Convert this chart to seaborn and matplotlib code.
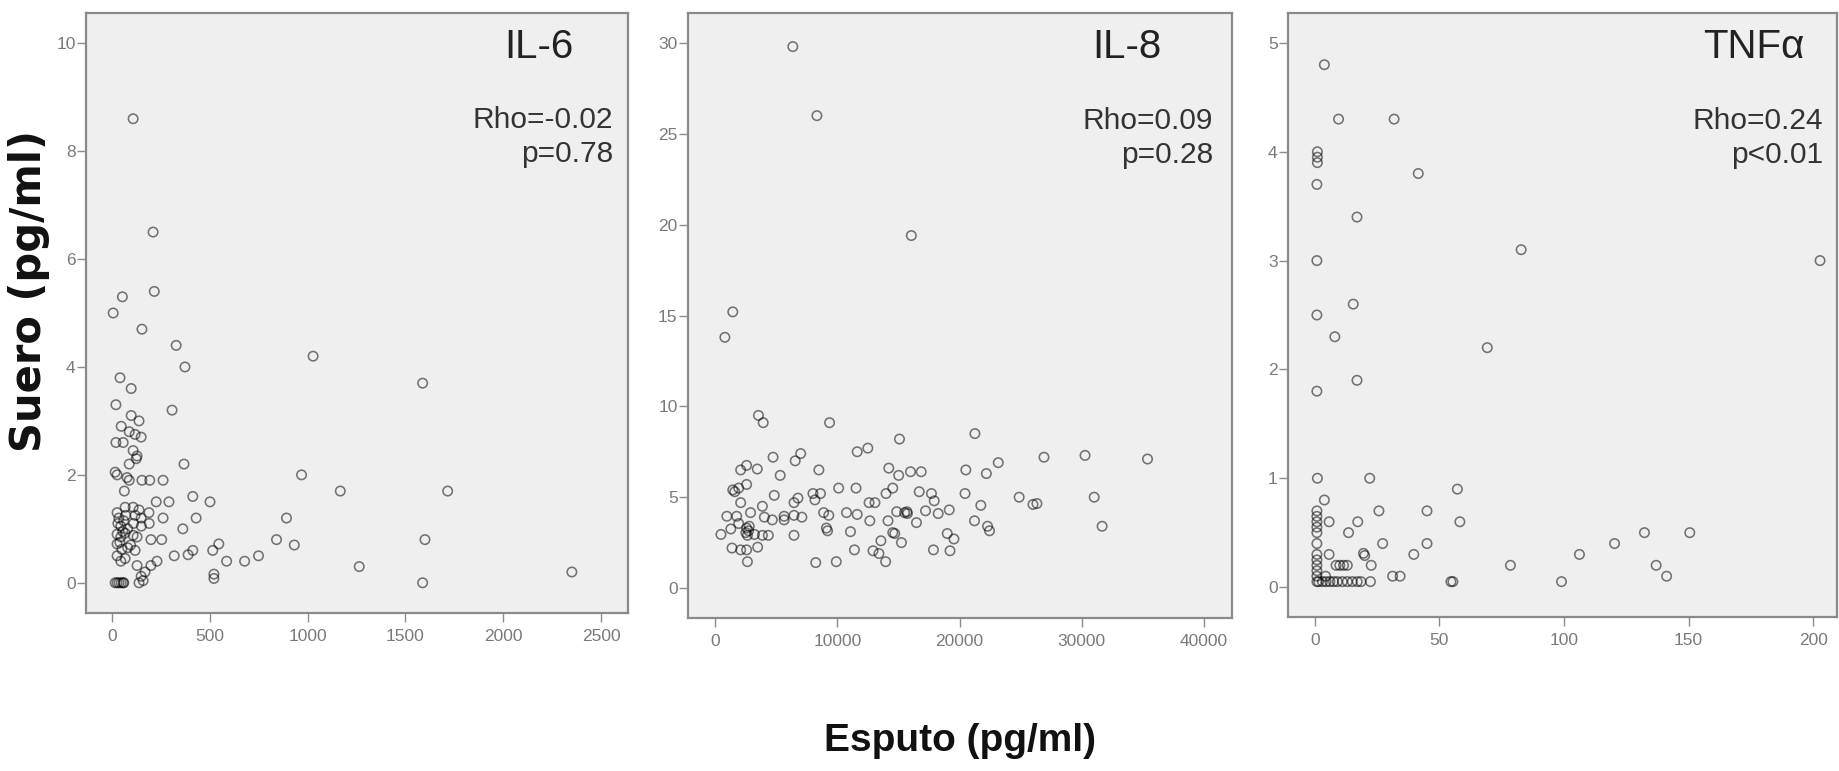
import matplotlib
matplotlib.use("Agg")
import matplotlib.pyplot as plt
import seaborn as sns
import pandas as pd

# ---------------- data ----------------
panel_names = ["IL-6", "IL-8", "TNFα"]
rho_labels = ["Rho=-0.02", "Rho=0.09", "Rho=0.24"]
p_labels = ["p=0.78", "p=0.28", "p<0.01"]

il6_x = [108, 210, 216, 6, 53, 153, 328, 373, 1028, 1588,
         41, 98, 20, 307, 98, 138, 47, 88, 118, 149,
         20, 57, 108, 128, 124, 88, 368, 16, 26, 77,
         88, 153, 193, 261, 969, 63, 1167, 1716, 413, 226,
         291, 501, 67, 108, 138, 189, 26, 118, 149, 261,
         430, 892, 30, 45, 60, 80, 110, 150, 190, 362,
         26, 45, 67, 108, 128, 199, 254, 841, 1600, 932,
         546, 515, 26, 50, 118, 80, 413, 389, 318, 749,
         586, 678, 230, 199, 1264, 26, 67, 45, 128, 169,
         149, 521, 521, 2351, 16, 26, 36, 47, 57, 138,
         159, 1588, 35, 55, 40, 70, 95, 60]
il6_y = [8.6, 6.5, 5.4, 5.0, 5.3, 4.7, 4.4, 4.0, 4.2, 3.7,
         3.8, 3.6, 3.3, 3.2, 3.1, 3.0, 2.9, 2.8, 2.75, 2.7,
         2.6, 2.6, 2.45, 2.35, 2.3, 2.2, 2.2, 2.05, 2.0, 1.95,
         1.9, 1.9, 1.9, 1.9, 2.0, 1.7, 1.7, 1.7, 1.6, 1.5,
         1.5, 1.5, 1.4, 1.4, 1.35, 1.3, 1.3, 1.25, 1.2, 1.2,
         1.2, 1.2, 1.1, 1.05, 1.15, 1.0, 1.1, 1.05, 1.1, 1.0,
         0.9, 0.85, 0.92, 0.88, 0.85, 0.8, 0.8, 0.8, 0.8, 0.7,
         0.72, 0.6, 0.72, 0.62, 0.6, 0.65, 0.6, 0.52, 0.5, 0.5,
         0.4, 0.4, 0.4, 0.32, 0.3, 0.5, 0.45, 0.4, 0.32, 0.2,
         0.12, 0.16, 0.08, 0.2, 0.0, 0.0, 0.0, 0.0, 0.0, 0.0,
         0.04, 0.0, 1.2, 0.95, 0.75, 1.25, 0.7, 0.0]

il8_x = [6365, 8336, 16058, 1454, 808, 3554, 3942, 9370, 21260, 15090,
         12500, 11630, 7010, 6560, 4750, 23170, 26910, 30270, 35380, 2100,
         2585, 3457, 5331, 8497, 14216, 15024, 15993, 16866, 20517, 22197,
         2585, 1454, 1615, 1938, 4846, 10113, 11535, 8013, 8627, 14540,
         13990, 16704, 17706, 20452, 24879, 31018, 2100, 6462, 6785, 8175,
         12600, 13085, 17932, 26010, 26333, 21745, 3877, 970, 1777, 2908,
         5654, 6462, 7108, 8885, 9305, 10760, 11631, 14863, 15508, 15735,
         17222, 18255, 19160, 4039, 4685, 5654, 1292, 1938, 2585, 2746,
         2520, 3231, 3877, 4362, 485, 6462, 12665, 14152, 16478, 21228,
         22294, 22455, 31665, 9112, 9208, 11082, 14540, 14701, 18998, 19547,
         13570, 15250, 3489, 1389, 2100, 2585, 11405, 12924, 13408, 17867,
         19224, 2650, 8239, 9919, 13958, 2800, 2650, 15700]
il8_y = [29.8, 26.0, 19.4, 15.2, 13.8, 9.5, 9.1, 9.1, 8.5, 8.2,
         7.7, 7.5, 7.4, 7.0, 7.2, 6.9, 7.2, 7.3, 7.1, 6.5,
         6.75, 6.55, 6.2, 6.5, 6.6, 6.2, 6.4, 6.4, 6.5, 6.3,
         5.7, 5.4, 5.3, 5.5, 5.1, 5.5, 5.5, 5.2, 5.2, 5.5,
         5.2, 5.3, 5.2, 5.2, 5.0, 5.0, 4.7, 4.7, 4.95, 4.85,
         4.7, 4.7, 4.8, 4.6, 4.65, 4.55, 4.5, 3.95, 3.95, 4.15,
         3.95, 4.0, 3.9, 4.15, 4.0, 4.15, 4.05, 4.2, 4.15, 4.1,
         4.25, 4.1, 4.3, 3.9, 3.75, 3.75, 3.25, 3.55, 3.3, 3.15,
         3.05, 2.95, 2.9, 2.9, 2.95, 2.9, 3.7, 3.7, 3.6, 3.7,
         3.4, 3.15, 3.4, 3.3, 3.15, 3.1, 3.05, 3.0, 3.0, 2.7,
         2.6, 2.5, 2.25, 2.2, 2.1, 2.1, 2.1, 2.05, 1.9, 2.1,
         2.05, 1.45, 1.4, 1.45, 1.45, 3.4, 2.9, 4.2]

tnf_x = [3.8, 9.5, 31.8, 1.0, 1.0, 1.0, 0.8, 41.5, 16.9, 0.8,
         82.8, 202.8, 15.4, 0.8, 8.0, 69.2, 16.9, 0.8, 1.0, 22.0,
         57.2, 3.8, 0.8, 0.8, 0.8, 0.8, 0.8, 0.8, 0.8, 0.8,
         0.8, 25.7, 45.0, 5.7, 17.2, 58.2, 13.5, 132.3, 150.5, 27.2,
         45.0, 120.3, 5.7, 19.5, 20.0, 39.7, 106.2, 8.5, 10.0, 11.5,
         13.0, 22.6, 78.5, 137.0, 31.2, 34.2, 141.2, 1.5, 3.0, 4.5,
         6.0, 7.5, 9.0, 11.0, 13.0, 15.0, 17.0, 18.5, 22.3, 54.6,
         55.4, 99.0, 4.3, 0.8, 0.8, 0.8]
tnf_y = [4.8, 4.3, 4.3, 4.0, 3.95, 3.9, 3.7, 3.8, 3.4, 3.0,
         3.1, 3.0, 2.6, 2.5, 2.3, 2.2, 1.9, 1.8, 1.0, 1.0,
         0.9, 0.8, 0.7, 0.65, 0.6, 0.5, 0.4, 0.3, 0.2, 0.1,
         0.05, 0.7, 0.7, 0.6, 0.6, 0.6, 0.5, 0.5, 0.5, 0.4,
         0.4, 0.4, 0.3, 0.31, 0.29, 0.3, 0.3, 0.2, 0.2, 0.2,
         0.2, 0.2, 0.2, 0.2, 0.1, 0.1, 0.1, 0.05, 0.05, 0.05,
         0.05, 0.05, 0.05, 0.05, 0.05, 0.05, 0.05, 0.05, 0.05, 0.05,
         0.05, 0.05, 0.1, 0.55, 0.25, 0.15]

x_ticks = [[0, 500, 1000, 1500, 2000, 2500],
           [0, 10000, 20000, 30000, 40000],
           [0, 50, 100, 150, 200]]
y_ticks = [[0, 2, 4, 6, 8, 10],
           [0, 5, 10, 15, 20, 25, 30],
           [0, 1, 2, 3, 4, 5]]

y_label = "Suero (pg/ml)"
x_label = "Esputo (pg/ml)"

# ---------------- layout / style ----------------
W, H = 1839, 771
axes_px = [(86, 13, 628, 613), (688, 13, 1232, 618), (1288, 13, 1837, 617)]
x_lims = [(-133, 2638), (-2209, 42290), (-10.8, 209.6)]
y_lims = [(-0.56, 10.56), (-1.65, 31.65), (-0.275, 5.275)]
title_right = [0.90, 0.87, 0.94]
rho_right = [0.972, 0.965, 0.975]

sns.set_style("ticks")
plt.rcParams["font.family"] = ["Liberation Sans", "DejaVu Sans"]

fig = plt.figure(figsize=(W / 100, H / 100), dpi=100)
fig.patch.set_facecolor("white")

datasets = [(il6_x, il6_y), (il8_x, il8_y), (tnf_x, tnf_y)]

for i, (xs, ys) in enumerate(datasets):
    l, t, r, b = axes_px[i]
    ax = fig.add_axes([l / W, 1 - b / H, (r - l) / W, (b - t) / H])
    ax.set_facecolor("#efefef")
    df = pd.DataFrame({"x": xs, "y": ys})
    sns.scatterplot(data=df, x="x", y="y", ax=ax, s=46, marker="o",
                    facecolor="none", edgecolor=(0, 0, 0, 0.52),
                    linewidth=1.15, legend=False)
    ax.set_xlim(*x_lims[i])
    ax.set_ylim(*y_lims[i])
    ax.set_xticks(x_ticks[i])
    ax.set_yticks(y_ticks[i])
    ax.set_xlabel("")
    ax.set_ylabel("")
    for sp in ax.spines.values():
        sp.set_visible(True)
        sp.set_color("#8a8a8a")
        sp.set_linewidth(1.6)
    ax.tick_params(axis="both", direction="out", length=6.5, width=1.0,
                   color="#8c8c8c", labelcolor="#7a7a7a", labelsize=12.5,
                   bottom=True, left=True, top=False, right=False)
    ax.tick_params(axis="x", pad=5)
    ax.tick_params(axis="y", pad=1)
    ax.text(title_right[i], 0.925, panel_names[i], transform=ax.transAxes,
            ha="right", va="baseline", fontsize=29, color="#222222")
    ax.text(rho_right[i], 0.808, rho_labels[i], transform=ax.transAxes,
            ha="right", va="baseline", fontsize=21.5, color="#333333")
    ax.text(rho_right[i], 0.752, p_labels[i], transform=ax.transAxes,
            ha="right", va="baseline", fontsize=21.5, color="#333333")

fig.text(29 / W, 1 - 291 / H, y_label, rotation=90, ha="center", va="center",
         fontsize=30, fontweight="bold", color="#111111",
         family=["DejaVu Sans"])
fig.text(960 / W, 1 - 741 / H, x_label, ha="center", va="center",
         fontsize=28, fontweight="bold", color="#111111")

fig.savefig("out.png", dpi=100)
